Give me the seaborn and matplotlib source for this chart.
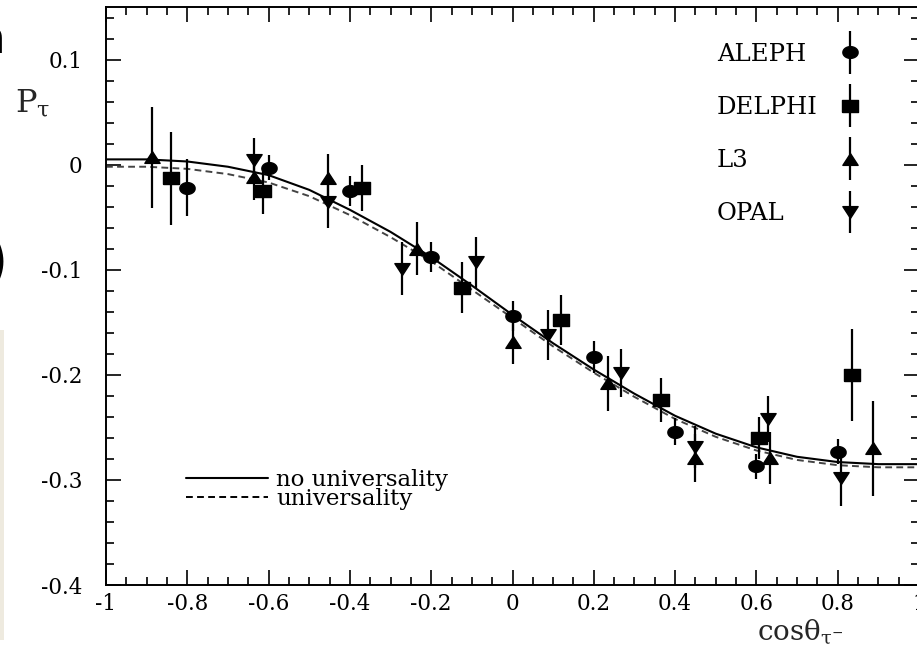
import matplotlib
matplotlib.use("Agg")
import numpy as np
import pandas as pd
import seaborn as sns
import matplotlib.pyplot as plt
from matplotlib.ticker import MultipleLocator, FuncFormatter
from matplotlib.legend_handler import HandlerErrorbar
from matplotlib.container import ErrorbarContainer
from matplotlib.patches import Rectangle

# ---- tau polarisation vs. production angle, four LEP experiments ----
aleph_x = [-0.80, -0.60, -0.40, -0.20, 0.00, 0.20, 0.40, 0.60, 0.80]
aleph_y = [-0.022, -0.003, -0.025, -0.088, -0.144, -0.183, -0.254, -0.287, -0.273]
aleph_e = [0.027, 0.012, 0.014, 0.014, 0.014, 0.015, 0.013, 0.012, 0.012]

delphi_x = [-0.84, -0.615, -0.37, -0.125, 0.12, 0.365, 0.607, 0.835]
delphi_y = [-0.013, -0.025, -0.022, -0.117, -0.148, -0.224, -0.260, -0.200]
delphi_e = [0.044, 0.022, 0.022, 0.024, 0.024, 0.021, 0.020, 0.044]

l3_x = [-0.887, -0.637, -0.453, -0.236, 0.0, 0.234, 0.448, 0.633, 0.886]
l3_y = [0.007, -0.012, -0.013, -0.080, -0.169, -0.208, -0.279, -0.279, -0.270]
l3_e = [0.048, 0.022, 0.023, 0.025, 0.021, 0.026, 0.023, 0.025, 0.045]

opal_x = [-0.637, -0.453, -0.273, -0.091, 0.088, 0.268, 0.448, 0.629, 0.809]
opal_y = [0.004, -0.036, -0.099, -0.093, -0.162, -0.198, -0.269, -0.242, -0.298]
opal_e = [0.021, 0.024, 0.025, 0.024, 0.024, 0.023, 0.020, 0.022, 0.027]

# fitted curves
curve_x = [-1.0, -0.9, -0.8, -0.7, -0.6, -0.5, -0.4, -0.3, -0.2, -0.1, 0.0,
           0.1, 0.2, 0.3, 0.4, 0.5, 0.6, 0.7, 0.8, 0.9, 1.0]
no_univ_y = [0.005, 0.005, 0.003, -0.002, -0.010, -0.024, -0.043, -0.064, -0.088,
             -0.115, -0.143, -0.170, -0.195, -0.218, -0.239, -0.256, -0.269,
             -0.278, -0.283, -0.285, -0.285]
univ_y = [-0.002, -0.002, -0.004, -0.009, -0.017, -0.030, -0.048, -0.069, -0.092,
          -0.119, -0.146, -0.173, -0.198, -0.221, -0.242, -0.259, -0.272,
          -0.281, -0.286, -0.288, -0.288]

experiments = ["ALEPH", "DELPHI", "L3", "OPAL"]
curve_labels = ["no universality", "universality"]
x_ticks = [-1, -0.8, -0.6, -0.4, -0.2, 0, 0.2, 0.4, 0.6, 0.8, 1]
y_ticks = [-0.4, -0.3, -0.2, -0.1, 0, 0.1]

# slightly wide marker outlines
t = np.linspace(0, 2 * np.pi, 40)
m_ellipse = list(zip(1.3 * np.cos(t), np.sin(t)))
m_square = [(-1.25, -1), (1.25, -1), (1.25, 1), (-1.25, 1), (-1.25, -1)]
m_up = [(0, 1), (-1.3, -1), (1.3, -1), (0, 1)]
m_down = [(0, -1), (-1.3, 1), (1.3, 1), (0, -1)]

sns.set_theme(style="ticks")
plt.rcParams.update({
    "font.family": ["DejaVu Serif"],
    "mathtext.fontset": "dejavuserif",
    "axes.unicode_minus": False,
    "axes.linewidth": 1.4,
    "axes.edgecolor": "black",
    "text.color": "black",
    "xtick.color": "black",
    "ytick.color": "black",
})

fig = plt.figure(figsize=(9.17, 6.51), dpi=100)
fig.patch.set_facecolor("white")
ax = fig.add_axes([106 / 917, 66 / 651, 813 / 917, 578 / 651])
ax.set_facecolor("white")

curves = pd.DataFrame({"x": curve_x, "no_univ": no_univ_y, "univ": univ_y})
sns.lineplot(data=curves, x="x", y="no_univ", ax=ax, color="black", lw=1.5,
             sort=False, zorder=2)
sns.lineplot(data=curves, x="x", y="univ", ax=ax, color="#444444", lw=1.4,
             linestyle=(0, (3.5, 2.2)), sort=False, zorder=2)
solid_line, dashed_line = ax.lines[0], ax.lines[1]

series = [
    (aleph_x, aleph_y, aleph_e, m_ellipse),
    (delphi_x, delphi_y, delphi_e, m_square),
    (l3_x, l3_y, l3_e, m_up),
    (opal_x, opal_y, opal_e, m_down),
]
exp_handles = []
for (xs, ys, es, mk), name in zip(series, experiments):
    h = ax.errorbar(xs, ys, yerr=es, marker=mk, markersize=11, linestyle="none",
                    color="black", ecolor="black", elinewidth=1.6, capsize=0,
                    zorder=3, label=name)
    exp_handles.append(h)

ax.set_xlim(-1, 1)
ax.set_ylim(-0.4, 0.15)
ax.xaxis.set_minor_locator(MultipleLocator(0.05))
ax.yaxis.set_minor_locator(MultipleLocator(0.02))
ax.set_xticks(x_ticks)
ax.set_yticks(y_ticks)
fmt = FuncFormatter(lambda v, p: "%g" % round(v, 3))
ax.xaxis.set_major_formatter(fmt)
ax.yaxis.set_major_formatter(fmt)
ax.tick_params(which="both", direction="in", top=True, right=True, width=1.2)
ax.tick_params(which="major", length=11, labelsize=15.5)
ax.tick_params(which="minor", length=5.5)
ax.tick_params(axis="x", which="major", pad=5.5)
ax.tick_params(axis="y", which="major", pad=17)
for s in ax.spines.values():
    s.set_visible(True)

ax.set_xlabel(r"$\mathrm{cos\theta}_{\mathrm{\tau}^{-}}$", fontsize=20)
ax.xaxis.set_label_coords((757 - 106) / 813, (585 - 640) / 578)
ax.xaxis.label.set_ha("left")
ax.xaxis.label.set_va("baseline")
ax.set_ylabel(r"$\mathrm{P}_{\mathrm{\tau}}$", fontsize=23, rotation=0)
ax.yaxis.set_label_coords((15 - 106) / 813, (585 - 112) / 578)
ax.yaxis.label.set_ha("left")
ax.yaxis.label.set_va("baseline")

# experiment key: names on the left, symbols aligned on the right
leg1 = ax.legend(handles=exp_handles, labels=experiments, loc="upper left",
                 bbox_to_anchor=((717 - 106) / 813, (585 - 43) / 578),
                 frameon=False, markerfirst=False, numpoints=1,
                 handlelength=1.0, handletextpad=0.82, labelspacing=1.24,
                 borderpad=0, borderaxespad=0, fontsize=17.5,
                 handler_map={ErrorbarContainer: HandlerErrorbar(xerr_size=0.88,
                                                                 yerr_size=0.88)})
ax.add_artist(leg1)

leg2 = ax.legend(handles=[solid_line, dashed_line], labels=curve_labels,
                 loc="center left",
                 bbox_to_anchor=((186 - 106) / 813, (585 - 489.5) / 578),
                 frameon=False, handlelength=3.58, handletextpad=0.35,
                 labelspacing=-0.17, borderpad=0, borderaxespad=0, fontsize=16.5)
for ln in leg2.get_lines():
    ln.set_color("black")

# left-align the experiment names while keeping the symbols in one column
fig.canvas.draw()
renderer = fig.canvas.get_renderer()
widths = [tx.get_window_extent(renderer).width * 72 / fig.dpi
          for tx in leg1.get_texts()]
wmax = max(widths)
base_sep = leg1.handletextpad * leg1._fontsize
items = [b for col in leg1._legend_handle_box.get_children()
         for b in col.get_children()]
for b, w in zip(items, widths):
    b.sep = base_sep + (wmax - w)

# slide remnants around the figure
fig.text(-24 / 917, 1 - 53 / 651, "n", family="DejaVu Sans", fontsize=34,
         ha="left", va="baseline")
fig.text(-16 / 917, 1 - 282 / 651, ")", family="DejaVu Sans", fontsize=46,
         ha="left", va="baseline")
fig.patches.append(Rectangle((0, 1 - 640 / 651), 4 / 917, 310 / 651,
                             transform=fig.transFigure, facecolor="#eeeadf",
                             edgecolor="none", zorder=0))

fig.savefig("out.png", dpi=100)
